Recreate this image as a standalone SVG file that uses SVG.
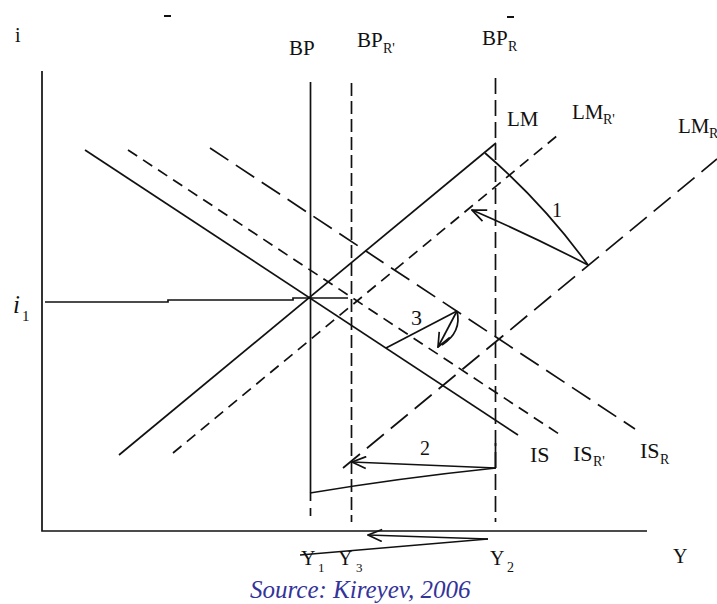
<svg xmlns="http://www.w3.org/2000/svg" width="717" height="604" viewBox="0 0 717 604">
<style>
.ln{stroke:#111;stroke-width:1.7;fill:none}
.sd{stroke-dasharray:11 7}
.ld{stroke-dasharray:22 9}
.vd{stroke-dasharray:13 5}
.vd2{stroke-dasharray:16 6}
.ser{font-family:"Liberation Serif","Times New Roman",serif;fill:#111}
.src{font-family:"Liberation Serif","Times New Roman",serif;font-style:italic;fill:#333399}
</style>
<defs>
<marker id="ah" viewBox="0 0 16 14" refX="15" refY="7" markerWidth="16" markerHeight="14" markerUnits="userSpaceOnUse" orient="auto">
<path d="M1,1 L15,7 L1,13" fill="none" stroke="#111" stroke-width="1.7"/>
</marker>
</defs>
<rect width="717" height="604" fill="#fff"/>
<rect x="164" y="15" width="7" height="2" fill="#111"/>
<rect x="507" y="16" width="7" height="2" fill="#111"/>
<g id="axes">
<path class="ln" d="M42,71 L42,531 L647,531"/>
<text class="ser" x="15" y="42" font-size="20">i</text>
<text class="ser" x="673" y="563" font-size="20">Y</text>
<text class="ser" x="13" y="313" font-size="25" font-style="italic">i</text>
<text class="ser" x="22" y="321" font-size="15">1</text>
<path class="ln" d="M45,302 L168,302 L168,300 L293,300 L293,298 L348,298" stroke-width="1.5"/>
</g>
<g id="BP">
<path class="ln" d="M310.5,82 L310.5,493"/>
<path class="ln" d="M310.5,493 L310.5,522" stroke-dasharray="8 7"/>
<text class="ser" x="289" y="55" font-size="21">BP</text>
</g>
<g id="BP_R1">
<path class="ln vd" d="M351.5,83 L351.5,522"/>
<text class="ser" x="357" y="47" font-size="21">BP</text>
<text class="ser" x="383" y="53" font-size="14">R'</text>
</g>
<g id="BP_R">
<path class="ln vd2" d="M495.5,78 L495.5,522"/>
<path class="ln" d="M495.5,443 L495.5,468"/>
<text class="ser" x="482" y="45" font-size="21">BP</text>
<text class="ser" x="508" y="51" font-size="14">R</text>
</g>
<g id="LM">
<path class="ln" d="M119,455 L496,143"/>
<text class="ser" x="507" y="126" font-size="21">LM</text>
</g>
<g id="LM_R1">
<path class="ln sd" d="M173,453 L558,135"/>
<text class="ser" x="572" y="119" font-size="21">LM</text>
<text class="ser" x="603" y="124" font-size="14">R'</text>
</g>
<g id="LM_R">
<path class="ln ld" d="M343,468 L717,159"/>
<text class="ser" x="678" y="133" font-size="21">LM</text>
<text class="ser" x="709" y="138" font-size="14">R</text>
</g>
<g id="IS">
<path class="ln" d="M85,150 L518,435"/>
<text class="ser" x="530" y="462" font-size="22">IS</text>
</g>
<g id="IS_R1">
<path class="ln sd" d="M128,150 L562,436"/>
<text class="ser" x="573" y="461" font-size="22">IS</text>
<text class="ser" x="593" y="466" font-size="14">R'</text>
</g>
<g id="IS_R">
<path class="ln ld" d="M210,148 L635,429"/>
<text class="ser" x="640" y="458" font-size="22">IS</text>
<text class="ser" x="660" y="464" font-size="14">R</text>
</g>
<g id="connectors">
<path class="ln" d="M485,153 Q543,203 588,265"/>
<path class="ln" d="M588,265 Q530,235 472,210" marker-end="url(#ah)"/>
<text class="ser" x="552" y="217" font-size="20">1</text>
<path class="ln" d="M386,348 L457,311"/>
<path class="ln" d="M457,311 L438,347" marker-end="url(#ah)"/>
<path class="ln" d="M457,311 Q462,332 442,345"/>
<text class="ser" x="411" y="325" font-size="22">3</text>
<path class="ln" d="M496,468 L352,462" marker-end="url(#ah)"/>
<path class="ln" d="M496,468 Q400,478 310,493"/>
<text class="ser" x="420" y="455" font-size="20">2</text>
<path class="ln" d="M488,539 L368,535" marker-end="url(#ah)"/>
<path class="ln" d="M488,539 L300,555"/>
</g>
<g id="ylabels">
<text class="ser" x="301" y="565" font-size="20">Y</text>
<text class="ser" x="318" y="572" font-size="13">1</text>
<text class="ser" x="338" y="565" font-size="20">Y</text>
<text class="ser" x="356" y="572" font-size="13">3</text>
<text class="ser" x="490" y="565" font-size="20">Y</text>
<text class="ser" x="507" y="572" font-size="14">2</text>
</g>
<text class="src" x="250" y="598" font-size="25">Source: Kireyev, 2006</text>
</svg>
